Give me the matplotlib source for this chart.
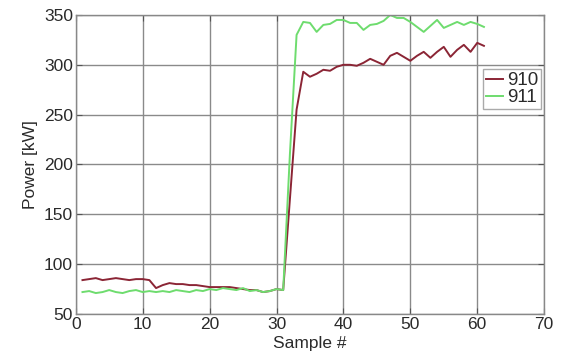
import matplotlib
matplotlib.use('Agg')
import matplotlib.pyplot as plt
import numpy as np

plt.rcParams.update({
    'font.family': ['Liberation Sans', 'DejaVu Sans'],
    'font.size': 12.5,
})

samples = list(range(1, 62))
p910 = [84, 85, 86, 84, 85, 86, 85, 84, 85, 85,
        84, 76, 79, 81, 80, 80, 79, 79, 78, 77,
        77, 77, 77, 76, 75, 74, 74, 72, 73, 75,
        74, 165, 255, 293, 288, 291, 295, 294, 298, 300,
        300, 299, 302, 306, 303, 300, 309, 312, 308, 304,
        309, 313, 307, 313, 318, 308, 315, 320, 313, 322,
        319]
p911 = [72, 73, 71, 72, 74, 72, 71, 73, 74, 72,
        73, 72, 73, 72, 74, 73, 72, 74, 73, 75,
        74, 76, 75, 74, 76, 73, 74, 72, 73, 75,
        74, 210, 330, 343, 342, 333, 340, 341, 345, 345,
        342, 342, 335, 340, 341, 344, 350, 347, 347, 343,
        338, 333, 339, 345, 337, 340, 343, 340, 343, 341,
        338]

fig = plt.figure(figsize=(5.74, 3.56), dpi=100)
ax = fig.add_axes([0.132, 0.118, 0.816, 0.840])

ax.plot(samples, p910, color='#8B2535', lw=1.4, label='910')
ax.plot(samples, p911, color='#6EDC6E', lw=1.4, label='911')

ax.set_xlim(0, 70)
ax.set_ylim(50, 350)
ax.set_xticks(np.arange(0, 71, 10))
ax.set_yticks(np.arange(50, 351, 50))
ax.grid(True, color='#8a8a8a', lw=1.0)
ax.set_axisbelow(True)
ax.tick_params(direction='in', top=True, right=True, length=4,
               color='#555555', labelcolor='#2a2a2a', pad=2)
for s in ax.spines.values():
    s.set_color('#888888')
    s.set_linewidth(1.0)

ax.set_xlabel('Sample #', color='#2a2a2a', labelpad=3)
ax.set_ylabel('Power [kW]', color='#2a2a2a', labelpad=4)

leg = ax.legend(loc='upper right', bbox_to_anchor=(0.993, 0.818),
                handlelength=0.9, handletextpad=0.2, borderpad=0.15,
                labelspacing=0.0, fancybox=False, framealpha=1,
                borderaxespad=0, fontsize=13.5)
leg.get_frame().set_edgecolor('#aaaaaa')
for t in leg.get_texts():
    t.set_color('#2a2a2a')

fig.savefig('out.png', dpi=100, facecolor='white')
